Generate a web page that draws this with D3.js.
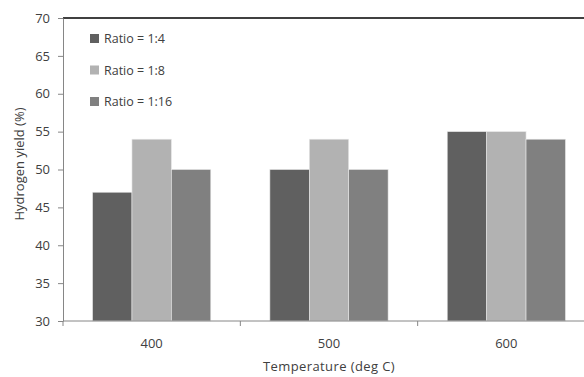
<!DOCTYPE html>
<html>
<head>
<meta charset="utf-8">
<script src="https://cdn.jsdelivr.net/npm/d3@7"></script>
<style>
  body { margin: 0; background: #fff; }
  text { font-family: "Open Sans", "DejaVu Sans", sans-serif; fill: #404040; }
</style>
</head>
<body>
<div id="chart"></div>
<script>
const temperatures = ["400", "500", "600"];
const seriesNames = ["Ratio = 1:4", "Ratio = 1:8", "Ratio = 1:16"];
const ratio14 = [47, 50, 55];
const ratio18 = [54, 54, 55];
const ratio116 = [50, 50, 54];
const yTicks = [30, 35, 40, 45, 50, 55, 60, 65, 70];
const colors = ["#606060", "#b2b2b2", "#808080"];

const seriesValues = [ratio14, ratio18, ratio116];

const totalWidth = 584, totalHeight = 377;
const plotLeft = 63, plotTop = 18, plotRight = 595, plotBottom = 321;

const svg = d3.select("#chart")
  .append("svg")
  .attr("width", totalWidth)
  .attr("height", totalHeight);

// x scales: groups and bars within each group
const x0 = d3.scaleBand()
  .domain(temperatures)
  .range([plotLeft, plotRight])
  .paddingInner(1 / 3)
  .paddingOuter(1 / 6);

const x1 = d3.scaleBand()
  .domain(d3.range(seriesNames.length))
  .range([0, x0.bandwidth()]);

const y = d3.scaleLinear()
  .domain([30, 70])
  .range([plotBottom, plotTop]);

// bars
const groups = svg.selectAll("g.group")
  .data(temperatures)
  .enter()
  .append("g")
  .attr("transform", d => "translate(" + x0(d) + ",0)");

groups.selectAll("rect")
  .data((d, i) => seriesValues.map((s, k) => ({ k: k, v: s[i] })))
  .enter()
  .append("rect")
  .attr("x", d => x1(d.k))
  .attr("y", d => y(d.v))
  .attr("width", x1.bandwidth())
  .attr("height", d => plotBottom - y(d.v))
  .attr("fill", d => colors[d.k])
  .attr("stroke", "#e8e8e8")
  .attr("stroke-width", 0.6);

// top border line
svg.append("line")
  .attr("x1", plotLeft).attr("x2", totalWidth)
  .attr("y1", plotTop).attr("y2", plotTop)
  .attr("stroke", "#000")
  .attr("stroke-width", 1.4);

// y axis
const yAxis = svg.append("g")
  .attr("transform", "translate(" + plotLeft + ",0)")
  .call(d3.axisLeft(y).tickValues(yTicks).tickSize(5).tickPadding(8).tickSizeOuter(0));
yAxis.select(".domain").attr("stroke", "#868686");
yAxis.selectAll(".tick line").attr("stroke", "#868686");
yAxis.selectAll("text").style("font-size", "13px").attr("fill", "#404040");

// x axis: category labels plus boundary ticks
const xAxis = svg.append("g")
  .attr("transform", "translate(0," + plotBottom + ")");
xAxis.append("line")
  .attr("x1", plotLeft).attr("x2", totalWidth)
  .attr("stroke", "#868686");
const step = x0.step();
xAxis.selectAll("line.tick")
  .data(temperatures)
  .enter()
  .append("line")
  .attr("x1", d => x0(d) - x0.paddingOuter() * step)
  .attr("x2", d => x0(d) - x0.paddingOuter() * step)
  .attr("y2", 5)
  .attr("stroke", "#868686");
xAxis.selectAll("text")
  .data(temperatures)
  .enter()
  .append("text")
  .attr("x", d => x0(d) + x0.bandwidth() / 2)
  .attr("y", 27)
  .attr("text-anchor", "middle")
  .style("font-size", "13px")
  .text(d => d);

// axis titles
svg.append("text")
  .attr("transform", "translate(24,164) rotate(-90)")
  .attr("text-anchor", "middle")
  .style("font-size", "13px")
  .text("Hydrogen yield (%)");

svg.append("text")
  .attr("x", 329)
  .attr("y", 371)
  .attr("text-anchor", "middle")
  .style("font-size", "13px")
  .style("letter-spacing", "0.4px")
  .text("Temperature (deg C)");

// legend
const legend = svg.selectAll("g.legend")
  .data(seriesNames)
  .enter()
  .append("g")
  .attr("transform", (d, i) => "translate(90," + (34 + i * 31.5) + ")");
legend.append("rect")
  .attr("width", 9).attr("height", 9)
  .attr("fill", (d, i) => colors[i]);
legend.append("text")
  .attr("x", 14)
  .attr("y", 9)
  .style("font-size", "12.5px")
  .text(d => d);
</script>
</body>
</html>
